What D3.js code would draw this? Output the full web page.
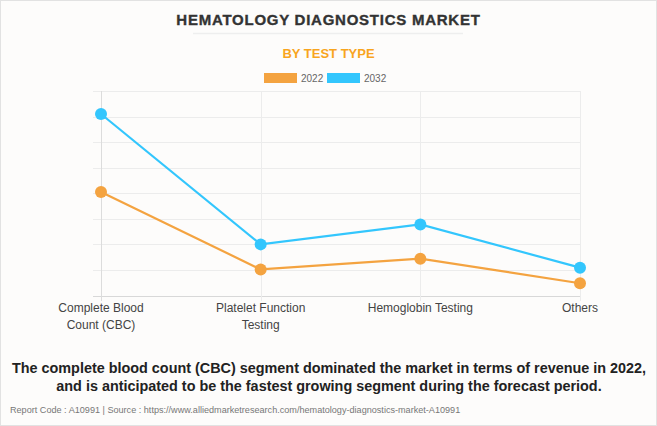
<!DOCTYPE html>
<html><head><meta charset="utf-8">
<script src="https://cdn.jsdelivr.net/npm/d3@7"></script>
<style>
html,body{margin:0;padding:0;background:#fff;}
svg{display:block;font-family:"Liberation Sans",Arial,sans-serif;}
</style></head>
<body>
<svg id="chart" width="657" height="426"></svg>
<script>
const categories = ["Complete Blood|Count (CBC)", "Platelet Function|Testing", "Hemoglobin Testing", "Others"];
const seriesNames = ["2022", "2032"];
const values2022 = [4.05, 1.02, 1.44, 0.48];
const values2032 = [7.1, 2.0, 2.78, 1.09];
const yTicks = [0, 1, 2, 3, 4, 5, 6, 7, 8];
const colors = ["#F4A340", "#33C6FD"];

const svg = d3.select("#chart");
svg.append("rect").attr("x",0.5).attr("y",0.5).attr("width",656).attr("height",425)
  .attr("fill","#fdfcfb").attr("stroke","#e2e2e2");

const x = d3.scalePoint().domain(categories).range([101, 580]);
const y = d3.scaleLinear().domain([0, 8]).range([295.5, 91]);

// title
svg.append("text").attr("x",328.5).attr("y",25).attr("text-anchor","middle")
  .attr("font-size",15).attr("font-weight","bold").attr("fill","#333")
  .attr("letter-spacing","0.75").attr("stroke","#333").attr("stroke-width",0.35)
  .text("HEMATOLOGY DIAGNOSTICS MARKET");
svg.append("line").attr("x1",193).attr("x2",463).attr("y1",33.5).attr("y2",33.5)
  .attr("stroke","#eeeeee").attr("stroke-width",1.5);
svg.append("text").attr("x",328.5).attr("y",58).attr("text-anchor","middle")
  .attr("font-size",13).attr("fill","#F8A51E").attr("font-weight","bold")
  .text("BY TEST TYPE");

// legend
const legX = [264, 327];
seriesNames.forEach((s,i)=>{
  svg.append("rect").attr("x",legX[i]).attr("y",73).attr("width",33).attr("height",10)
    .attr("fill",colors[i]);
  svg.append("text").attr("x",legX[i]+37).attr("y",82).attr("font-size",10)
    .attr("fill","#666").text(s);
});

// grid
const g = svg.append("g");
g.selectAll("line.h").data(yTicks).enter().append("line")
  .attr("x1",93).attr("x2",580).attr("y1",d=>Math.round(y(d))+0.5).attr("y2",d=>Math.round(y(d))+0.5)
  .attr("stroke",d=>d===0?"#d8d8d8":"#ececec").attr("stroke-width",1);
g.selectAll("line.v").data(categories).enter().append("line")
  .attr("x1",d=>Math.round(x(d))+0.5).attr("x2",d=>Math.round(x(d))+0.5)
  .attr("y1",91).attr("y2",301)
  .attr("stroke",(d,i)=>i===0?"#dcdcdc":"#ececec");

// x labels
categories.forEach(c=>{
  const lines = c.split("|");
  const t = svg.append("text").attr("x",x(c)).attr("y",312).attr("text-anchor","middle")
    .attr("font-size",12).attr("fill","#444");
  lines.forEach((l,j)=>t.append("tspan").attr("x",x(c)).attr("dy",j===0?0:17).text(l));
});

// lines
const data = [values2022, values2032];
const line = d3.line().x((d,i)=>x(categories[i])).y(d=>y(d));
data.forEach((vals,si)=>{
  svg.append("path").datum(vals).attr("d",line).attr("fill","none")
    .attr("stroke",colors[si]).attr("stroke-width",2.2);
  svg.selectAll(null).data(vals).enter().append("circle")
    .attr("cx",(d,i)=>x(categories[i])).attr("cy",d=>y(d)).attr("r",6)
    .attr("fill",colors[si]);
});

// bottom text
const bt = svg.append("text").attr("x",329).attr("y",373).attr("text-anchor","middle")
  .attr("font-size",14.4).attr("font-weight","bold").attr("fill","#222");
bt.append("tspan").attr("x",329).text("The complete blood count (CBC) segment dominated the market in terms of revenue in 2022,");
bt.append("tspan").attr("x",329).attr("dy",18).text("and is anticipated to be the fastest growing segment during the forecast period.");

svg.append("text").attr("x",10).attr("y",413).attr("font-size",9.1).attr("fill","#777")
  .text("Report Code : A10991  |  Source : https://www.alliedmarketresearch.com/hematology-diagnostics-market-A10991");
</script>
</body></html>
